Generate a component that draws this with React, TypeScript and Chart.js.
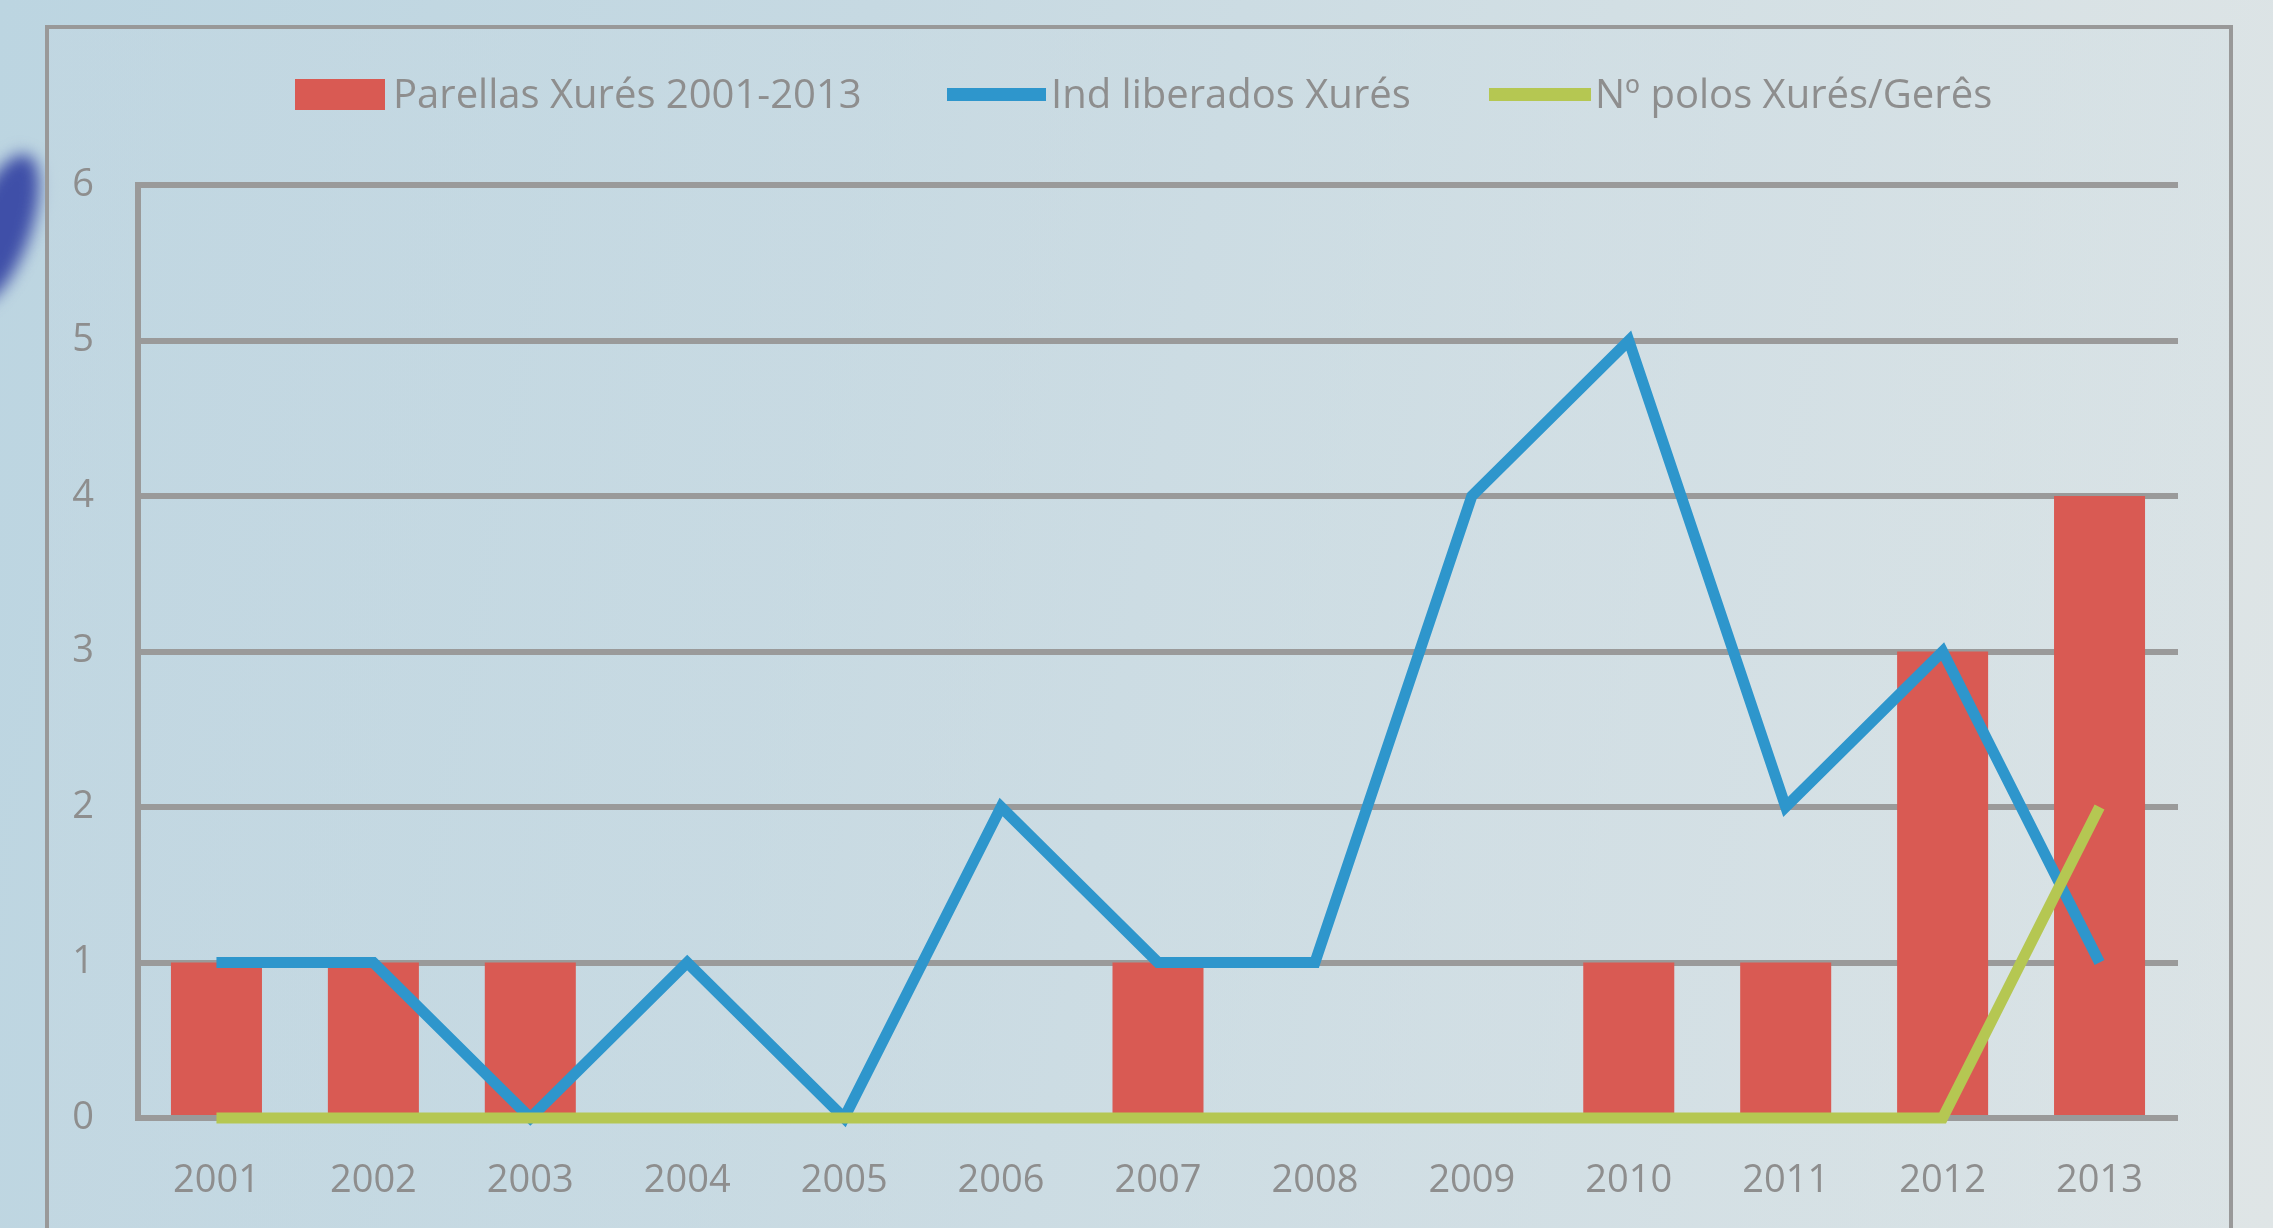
import React, { useEffect, useRef } from "react";
import { Chart, registerables } from "chart.js";

Chart.register(...registerables);

const years = ["2001", "2002", "2003", "2004", "2005", "2006", "2007", "2008", "2009", "2010", "2011", "2012", "2013"];
const parellas = [1, 1, 1, 0, 0, 0, 1, 0, 0, 1, 1, 3, 4];
const liberados = [1, 1, 0, 1, 0, 2, 1, 1, 4, 5, 2, 3, 1];
const polos = [0, 0, 0, 0, 0, 0, 0, 0, 0, 0, 0, 0, 2];
const seriesLabels = ["Parellas Xurés 2001-2013", "Ind liberados Xurés", "Nº polos Xurés/Gerês"];
const seriesColors = ["#d95a53", "#2e96cc", "#b5c752"];

const FONT = "'Open Sans', sans-serif";
const TEXT = "#8e8e8e";
const GRID = "#9a9a9a";

export default function App() {
  const ref = useRef<HTMLCanvasElement | null>(null);

  useEffect(() => {
    if (!ref.current) return;
    const chart = new Chart(ref.current, {
      type: "bar",
      data: {
        labels: years,
        datasets: [
          {
            type: "bar",
            label: seriesLabels[0],
            data: parellas,
            backgroundColor: seriesColors[0],
            borderWidth: 0,
            barPercentage: 0.58,
            categoryPercentage: 1,
            order: 3,
          },
          {
            type: "line",
            label: seriesLabels[1],
            data: liberados,
            borderColor: seriesColors[1],
            backgroundColor: seriesColors[1],
            borderWidth: 11,
            pointRadius: 0,
            tension: 0,
            borderCapStyle: "butt",
            borderJoinStyle: "miter",
            clip: false,
            order: 2,
          },
          {
            type: "line",
            label: seriesLabels[2],
            data: polos,
            borderColor: seriesColors[2],
            backgroundColor: seriesColors[2],
            borderWidth: 11,
            pointRadius: 0,
            tension: 0,
            borderCapStyle: "butt",
            borderJoinStyle: "miter",
            clip: false,
            order: 1,
          },
        ] as any,
      },
      options: {
        responsive: false,
        animation: false,
        layout: { padding: { top: 185, right: 95, bottom: 0, left: 0 } },
        plugins: {
          legend: { display: false },
          tooltip: { enabled: false },
        },
        scales: {
          x: {
            type: "category",
            offset: true,
            grid: { display: false, drawTicks: false },
            border: { display: false },
            ticks: {
              color: TEXT,
              font: { family: FONT, size: 38 },
              padding: 40,
              maxRotation: 0,
              autoSkip: false,
            },
            afterFit: (s: any) => {
              s.height = 110;
            },
          },
          y: {
            min: 0,
            max: 6,
            grid: { color: GRID, lineWidth: 6, drawTicks: false },
            border: { display: true, color: GRID, width: 6 },
            ticks: {
              stepSize: 1,
              color: TEXT,
              font: { family: FONT, size: 38 },
              padding: 44,
            },
            afterFit: (s: any) => {
              s.width = 138;
            },
          },
        },
      },
    });
    return () => chart.destroy();
  }, []);

  const legendText: React.CSSProperties = {
    position: "absolute",
    top: 66,
    fontFamily: FONT,
    fontSize: 40,
    color: TEXT,
    lineHeight: "54px",
    whiteSpace: "nowrap",
  };

  return (
    <div
      style={{
        position: "fixed",
        left: 0,
        top: 0,
        width: 2273,
        height: 1228,
        overflow: "hidden",
        background:
          "linear-gradient(100deg, #bcd5e1 0%, #c6d9e2 35%, #d2dfe4 65%, #dfe5e6 100%)",
      }}
    >
      <div
        style={{
          position: "absolute",
          left: -30,
          top: 150,
          width: 60,
          height: 160,
          borderRadius: "50%",
          background: "#3f4fa8",
          filter: "blur(8px)",
          transform: "rotate(20deg)",
        }}
      />
      <div
        style={{
          position: "absolute",
          left: 45,
          top: 25,
          width: 2180,
          height: 1260,
          border: "4px solid #999",
          background: "linear-gradient(100deg, rgba(196,216,226,0.5) 0%, rgba(214,225,229,0.4) 100%)",
        }}
      />
      <canvas ref={ref} width={2273} height={1228} style={{ position: "absolute", left: 0, top: 0, display: "block" }} />
      <div style={{ position: "absolute", left: 295, top: 79, width: 90, height: 31, background: seriesColors[0] }} />
      <div style={{ ...legendText, left: 393 }}>{seriesLabels[0]}</div>
      <div style={{ position: "absolute", left: 947, top: 88, width: 99, height: 13, background: seriesColors[1] }} />
      <div style={{ ...legendText, left: 1051 }}>{seriesLabels[1]}</div>
      <div style={{ position: "absolute", left: 1489, top: 88, width: 102, height: 13, background: seriesColors[2] }} />
      <div style={{ ...legendText, left: 1595 }}>{seriesLabels[2]}</div>
    </div>
  );
}
